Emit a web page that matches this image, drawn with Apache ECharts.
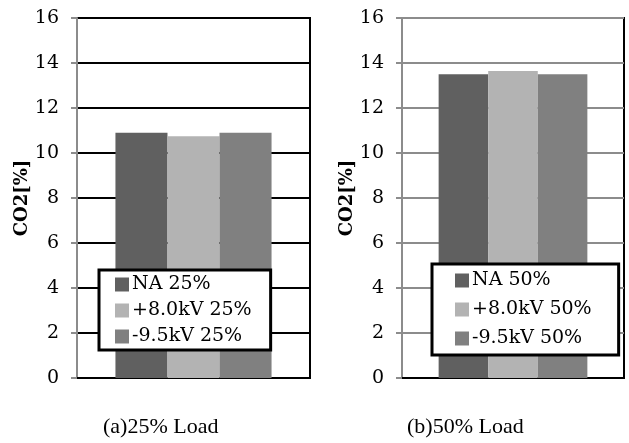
<!DOCTYPE html>
<html>
<head>
<meta charset="utf-8">
<script src="https://cdn.jsdelivr.net/npm/echarts@6/dist/echarts.min.js"></script>
<style>
  html, body { margin: 0; padding: 0; background: #fff; }
  #chart { width: 629px; height: 443px; }
</style>
</head>
<body>
<div id="chart"></div>
<script>
// CO2 concentration at two engine loads, three discharge conditions each
const seriesNames25 = ['NA 25%', '+8.0kV 25%', '-9.5kV 25%'];
const seriesNames50 = ['NA 50%', '+8.0kV 50%', '-9.5kV 50%'];
const values25 = [10.9, 10.75, 10.9];
const values50 = [13.5, 13.65, 13.5];
const captions = ['(a)25% Load', '(b)50% Load'];
const yTicks = { min: 0, max: 16, interval: 2 };
const yName = 'CO2[%]';

const barColors = ['#606060', '#b3b3b3', '#808080'];
const serif = 'DejaVu Serif';

const chart = echarts.init(document.getElementById('chart'), null, { renderer: 'canvas' });

function yAxisFor(gridIndex, splitColor) {
  return {
    type: 'value',
    gridIndex,
    min: yTicks.min, max: yTicks.max, interval: yTicks.interval,
    name: yName,
    nameLocation: 'middle',
    nameGap: 41,
    nameRotate: 90,
    nameTextStyle: { fontFamily: serif, fontWeight: 'bold', fontSize: 18, color: '#000' },
    axisLine: { show: true, lineStyle: { color: '#8c8c8c', width: 2 } },
    axisTick: { show: true, length: 6, lineStyle: { color: '#8c8c8c', width: 2 } },
    axisLabel: { fontFamily: serif, fontSize: 19, color: '#000', margin: 18 },
    splitLine: { show: true, lineStyle: { color: splitColor, width: 2 } }
  };
}

function xAxisFor(gridIndex) {
  return {
    type: 'category',
    gridIndex,
    data: [''],
    axisLine: { show: true, onZero: false, lineStyle: { color: '#000', width: 2 } },
    axisTick: { show: false },
    axisLabel: { show: false }
  };
}

function barsFor(names, values, idx) {
  return names.map((n, i) => ({
    name: n,
    type: 'bar',
    xAxisIndex: idx,
    yAxisIndex: idx,
    data: [values[i]],
    barGap: '0%',
    barCategoryGap: '33%',
    itemStyle: { color: barColors[i] },
    emphasis: { disabled: true }
  }));
}

function legendFor(names, left, top, padding, gap) {
  return {
    data: names,
    orient: 'vertical',
    left, top,
    backgroundColor: '#fff',
    borderColor: '#000',
    borderWidth: 3,
    borderRadius: 0,
    padding,
    itemGap: gap,
    itemWidth: 14,
    itemHeight: 14,
    icon: 'rect',
    selectedMode: false,
    textStyle: { fontFamily: serif, fontSize: 19, color: '#000', padding: [0, 0, 0, -2] }
  };
}

chart.setOption({
  animation: false,
  grid: [
    { left: 77, top: 18, width: 233, height: 360, show: true, borderColor: '#000', borderWidth: 2, backgroundColor: 'transparent' },
    { left: 402, top: 18, width: 222, height: 360, show: true, borderColor: '#000', borderWidth: 2, backgroundColor: 'transparent' }
  ],
  xAxis: [xAxisFor(0), xAxisFor(1)],
  yAxis: [yAxisFor(0, '#000'), yAxisFor(1, '#8c8c8c')],
  legend: [
    legendFor(seriesNames25, 99, 270, [5, 19, 4, 16], 7),
    legendFor(seriesNames50, 432, 264, [7, 27, 7, 23], 10)
  ],
  series: [...barsFor(seriesNames25, values25, 0), ...barsFor(seriesNames50, values50, 1)],
  graphic: [
    { type: 'text', left: 103, top: 416, style: { text: captions[0], font: '22px "Liberation Serif"', fill: '#000' } },
    { type: 'text', left: 407, top: 416, style: { text: captions[1], font: '22px "Liberation Serif"', fill: '#000' } }
  ]
});
</script>
</body>
</html>
